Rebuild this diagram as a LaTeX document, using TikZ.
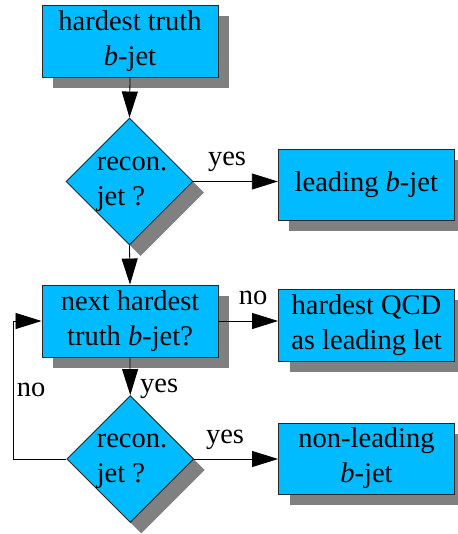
\documentclass[tikz,border=0pt]{standalone}
\usepackage{fontspec}
\setmainfont{Liberation Serif}
\usetikzlibrary{shapes.geometric,shadows,arrows.meta}
\definecolor{boxfill}{RGB}{0,187,255}
\definecolor{shadowgray}{RGB}{128,128,128}
\begin{document}
\begin{tikzpicture}[x=1pt,y=-1pt,
  font=\fontsize{28.5}{35}\selectfont,
  shad/.style={drop shadow={shadow xshift=11pt, shadow yshift=-11pt, fill=shadowgray, opacity=1}},
  box/.style={rectangle, draw=black!85, line width=0.9pt, fill=boxfill, minimum width=176pt, minimum height=72pt, inner sep=0pt, align=center, shad},
  dia/.style={diamond, draw=black!85, line width=0.9pt, fill=boxfill, minimum width=127pt, minimum height=127pt, inner sep=0pt, shad},
  diatext/.style={align=left, inner sep=0pt},
  arr/.style={-{Triangle[length=26pt,width=16pt]}, line width=0.8pt},
  lbl/.style={anchor=base, inner sep=0pt}]
\useasboundingbox (0,0) rectangle (457,534);
\node[box] (b1) at (130,41) {hardest truth\\\textit{b}-jet};
\node[dia] (d1) at (129.5,181.5) {};
\node[diatext] (t1) at (132,184) {recon.\\jet ?};
\node[box, minimum height=71pt] (b3) at (366.3,184.5) {leading \textit{b}-jet};
\node[box] (b2) at (130,321) {next hardest\\truth \textit{b}-jet?};
\node[box] (b4) at (366.5,325) {hardest QCD\\as leading let};
\node[dia] (d2) at (130.3,459) {};
\node[diatext] (t2) at (132,461.5) {recon.\\jet ?};
\node[box, minimum height=71pt] (b5) at (366.5,458.5) {non-leading\\\textit{b}-jet};
\coordinate (loop) at (13,459);
\draw[arr] (b1.south) -- (d1.north);
\draw[arr] (d1.east) -- (d1.east -| b3.west);
\draw[arr] (d1.south) -- (b2.north);
\draw[arr] (b2.east) -- (b2.east -| b4.west);
\draw[arr] (b2.south) -- (d2.north);
\draw[arr] (d2.east) -- (d2.east -| b5.west);
\draw[arr] (d2.west) -- (loop) |- (b2.west);
\node[lbl] (y1) at (227,166) {yes};
\node[lbl] (n1) at (253,304) {no};
\node[lbl, anchor=base west] (y2) at (140,392) {yes};
\node[lbl] (y3) at (225,443) {yes};
\node[lbl] (n2) at (31,396) {no};
\end{tikzpicture}
\end{document}
